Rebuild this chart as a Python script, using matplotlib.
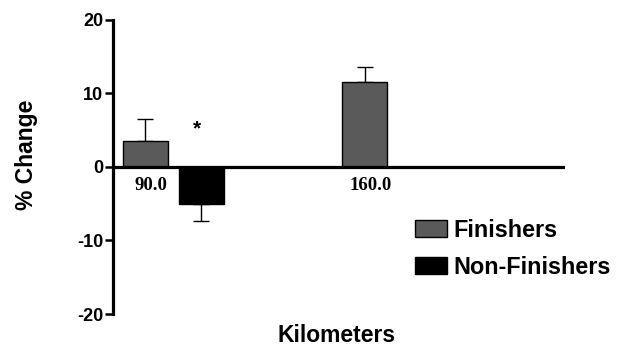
import numpy as np
import matplotlib.pyplot as plt
from matplotlib.patches import Patch

plt.rcParams["axes.unicode_minus"] = False

# Data
distances = ["90.0", "160.0"]
finishers = [3.5, 11.6]
finishers_err = [3.0, 2.0]
non_finishers = [-5.1]          # only measured at 90 km
non_finishers_err = [2.2]

grey = "#5a5a5a"
sans = "Liberation Sans"

fig = plt.figure(figsize=(6.22, 3.48), dpi=100)
ax = fig.add_axes([0.1817, 0.0977, 0.7267, 0.845])

x = np.arange(len(distances))
w = 0.205
off = 0.127

# Finishers bars (error bar only on the outer side)
ax.bar(x - off, finishers, width=w, color=grey, edgecolor="black", linewidth=1.0, zorder=2)
ax.errorbar(x - off, finishers, yerr=[np.zeros(len(finishers)), finishers_err],
            fmt="none", ecolor="black", elinewidth=1.0, capsize=5.5, capthick=1.0, zorder=1)

# Non-finishers bars
xn = x[:len(non_finishers)] + off
ax.bar(xn, non_finishers, width=w, color="black", edgecolor="black", linewidth=1.0, zorder=2)
ax.errorbar(xn, non_finishers, yerr=[non_finishers_err, np.zeros(len(non_finishers))],
            fmt="none", ecolor="black", elinewidth=1.0, capsize=5.5, capthick=1.0, zorder=1)

# significance marker
ax.text(xn[0] - 0.02, 5.2, "*", ha="center", va="center", fontsize=15,
        fontweight="bold", family=sans)

# zero line acting as the x axis
ax.axhline(0, color="black", linewidth=2.3, zorder=3)

# distance labels just under the zero line
for i, lab in enumerate(distances):
    ax.text(i - 0.1, -1.3, lab, ha="center", va="top", fontsize=13.5,
            fontweight="bold", family="Liberation Serif")

ax.set_xlim(-0.275, 1.785)
ax.set_ylim(-20, 20)
ax.set_yticks([-20, -10, 0, 10, 20])
ax.set_xticks([])
for s in ["top", "right", "bottom"]:
    ax.spines[s].set_visible(False)
ax.spines["left"].set_linewidth(2.3)
ax.tick_params(axis="y", length=6, width=1.8, labelsize=13, pad=1)
for t in ax.get_yticklabels():
    t.set_fontweight("bold")
    t.set_family(sans)

fig.text(26 / 622, 1 - 155 / 348, "% Change", rotation=90, ha="center", va="center",
         fontsize=16.5, fontweight="bold", family=sans)
fig.text(337 / 622, 1 - 335 / 348, "Kilometers", ha="center", va="center",
         fontsize=16.5, fontweight="bold", family=sans)

handles = [Patch(facecolor=grey, edgecolor="black", linewidth=1.0),
           Patch(facecolor="black", edgecolor="black", linewidth=1.0)]
fig.legend(handles, ["Finishers", "Non-Finishers"], loc="upper left",
           bbox_to_anchor=(415 / 622, 1 - 219 / 348), frameon=False,
           borderpad=0, borderaxespad=0, handlelength=1.35, handleheight=0.75,
           handletextpad=0.3, labelspacing=0.6,
           prop={"family": sans, "weight": "bold", "size": 16.8})

fig.savefig("out.png", dpi=100)
